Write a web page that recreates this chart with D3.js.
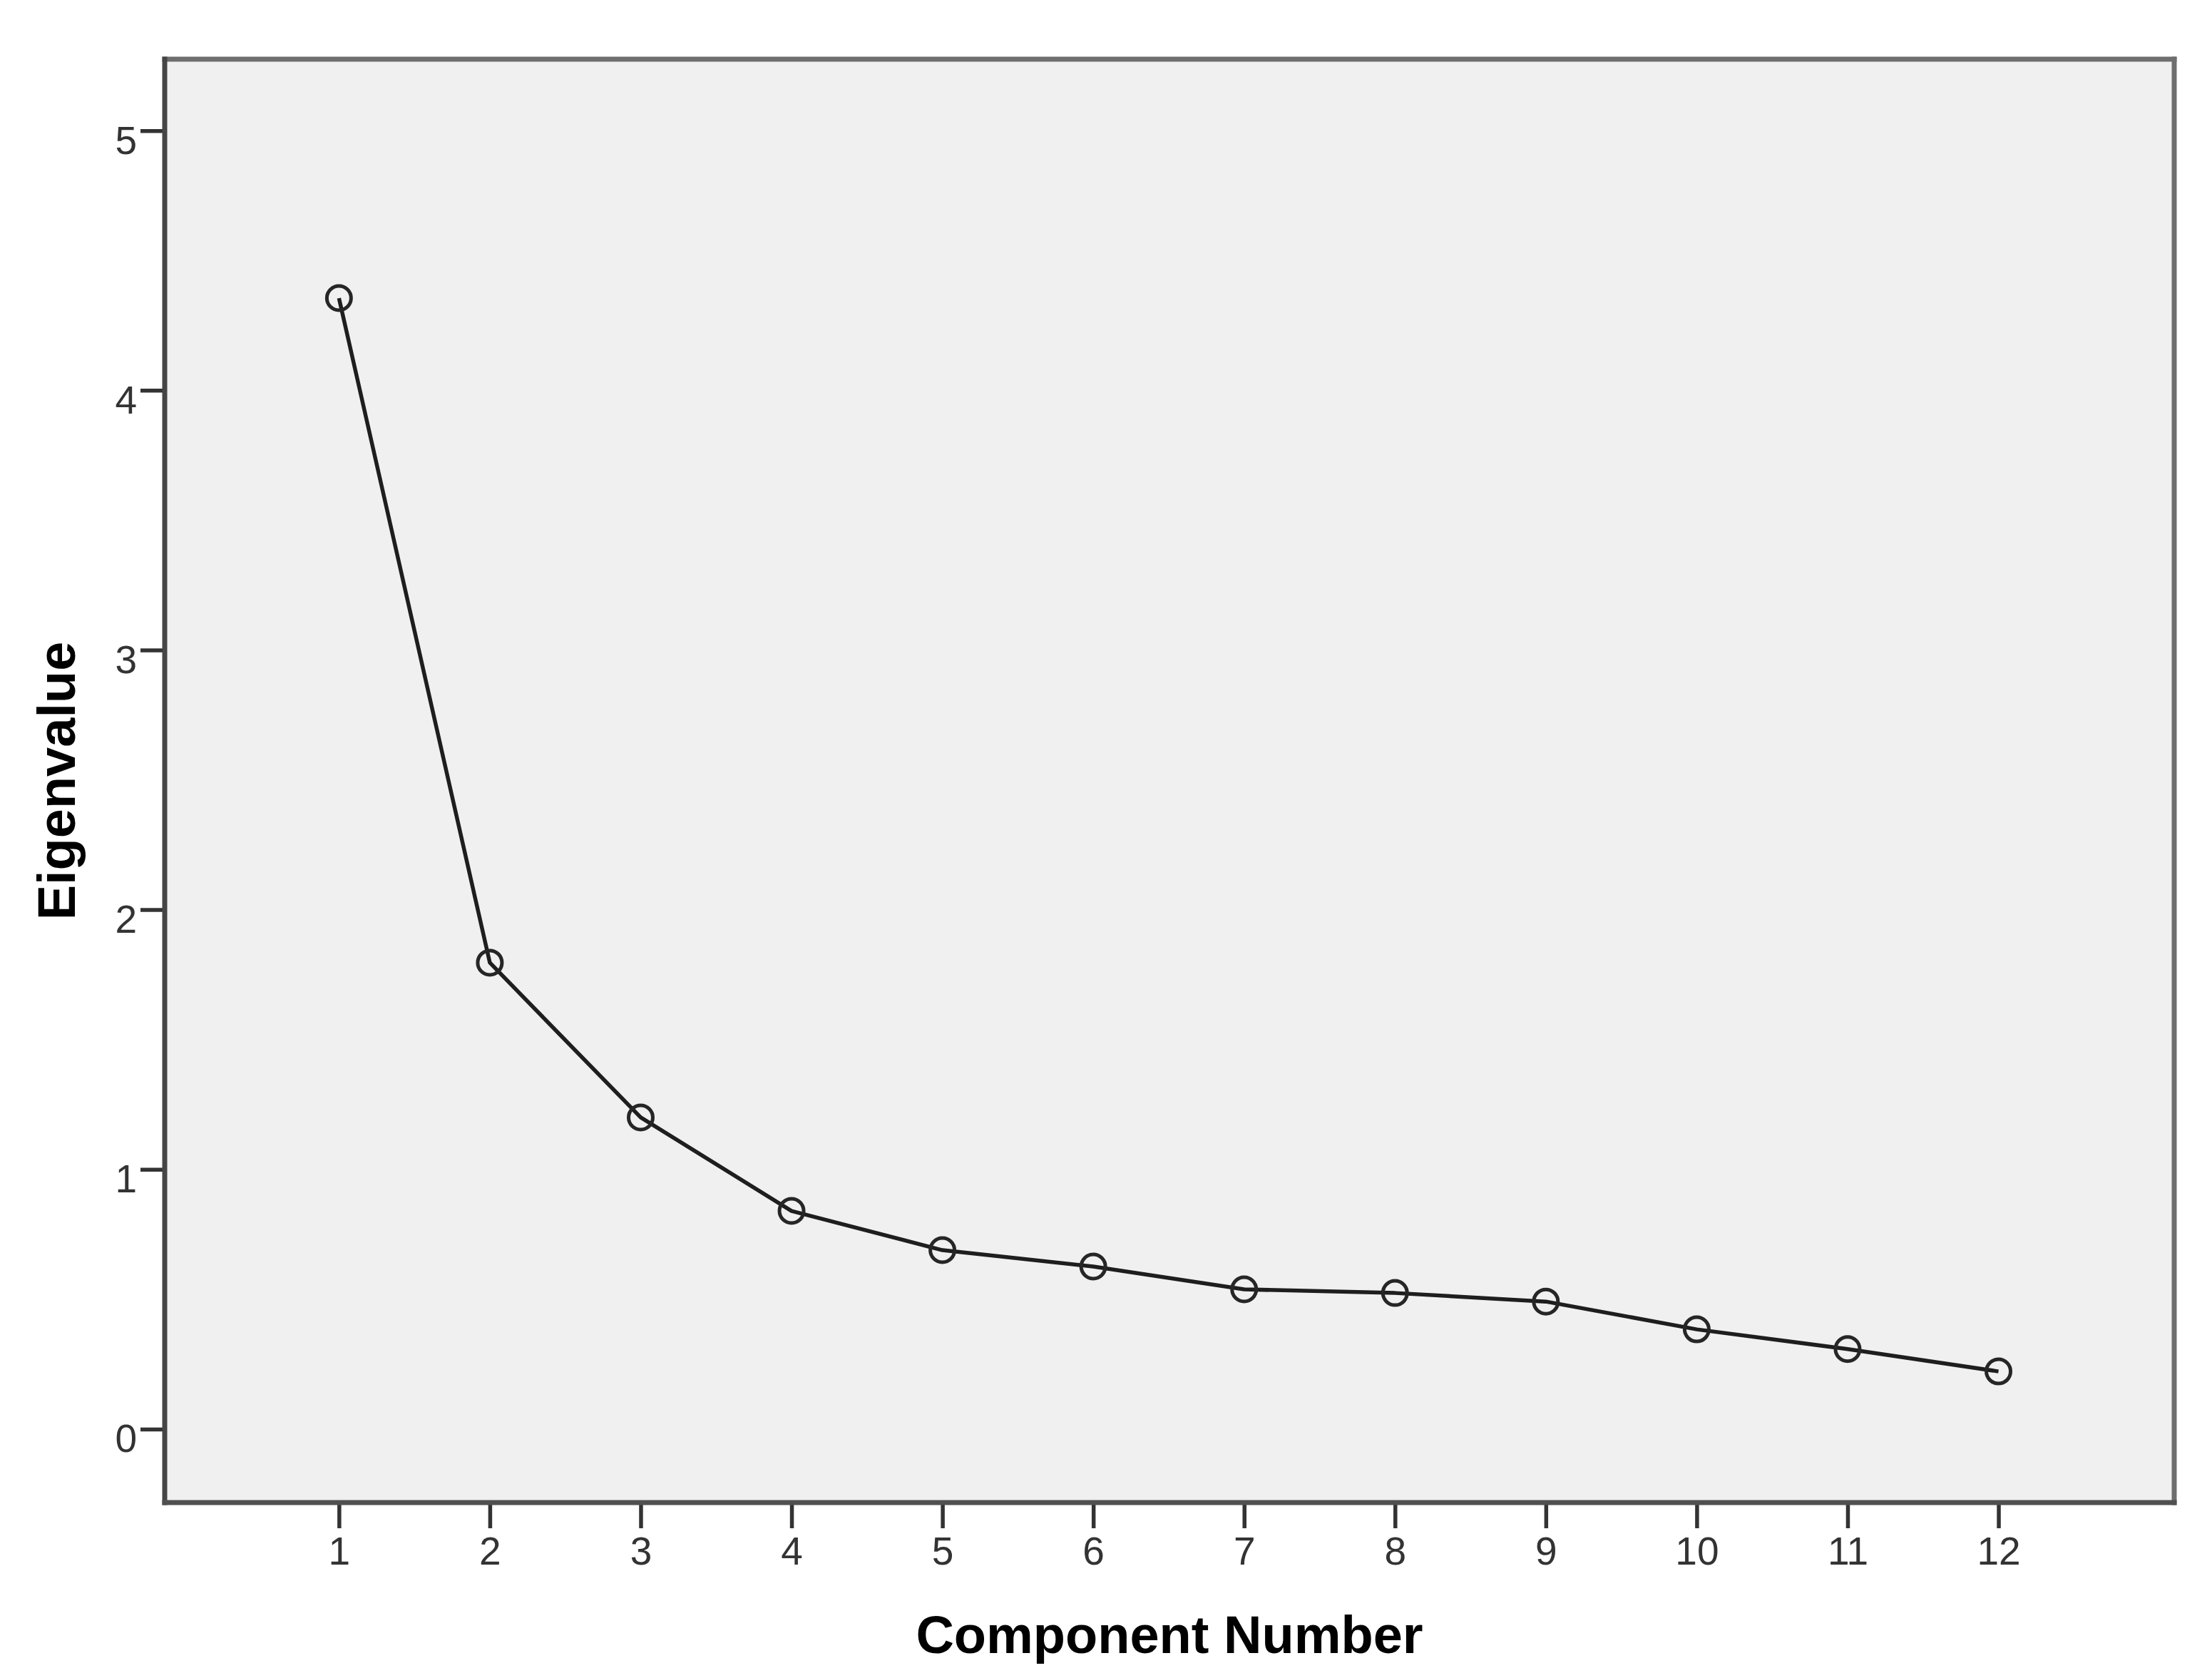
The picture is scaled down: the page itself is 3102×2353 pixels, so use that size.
<!DOCTYPE html>
<html>
<head>
<meta charset="utf-8">
<script src="https://cdn.jsdelivr.net/npm/d3@7"></script>
<style>
  html, body { margin: 0; padding: 0; background: #ffffff; }
  svg { display: block; }
</style>
</head>
<body>
<script>
// ---- data ----
const components = [1, 2, 3, 4, 5, 6, 7, 8, 9, 10, 11, 12];
const eigenvalues = [4.355, 1.796, 1.20, 0.84, 0.689, 0.626, 0.538, 0.524, 0.491, 0.384, 0.308, 0.222];
const yTickValues = [0, 1, 2, 3, 4, 5];
const xTickValues = [1, 2, 3, 4, 5, 6, 7, 8, 9, 10, 11, 12];
const xTitle = "Component Number";
const yTitle = "Eigenvalue";

// ---- layout ----
const W = 3102, H = 2353;
const plot = { left: 231, right: 3049, top: 83, bottom: 2107 };

const svg = d3.select("body").append("svg")
  .attr("width", W).attr("height", H)
  .attr("viewBox", `0 0 ${W} ${H}`);

const x = d3.scaleLinear().domain([-0.155, 13.165]).range([plot.left, plot.right]);
const y = d3.scaleLinear().domain([-0.283, 5.275]).range([plot.bottom, plot.top]);

// plot background
svg.append("rect")
  .attr("x", plot.left).attr("y", plot.top)
  .attr("width", plot.right - plot.left).attr("height", plot.bottom - plot.top)
  .attr("fill", "#f0f0f0");

// axes
const tickFont = "'Liberation Sans', Arial, sans-serif";
const yAxis = svg.append("g")
  .attr("transform", `translate(${plot.left},0)`)
  .call(d3.axisLeft(y).tickValues(yTickValues).tickFormat(d3.format("d")).tickSize(34).tickPadding(5).tickSizeOuter(0));
yAxis.select(".domain").remove();
yAxis.selectAll(".tick line").attr("stroke", "#333333").attr("stroke-width", 5.5);
yAxis.selectAll(".tick text")
  .attr("font-family", tickFont).attr("font-size", 55).attr("fill", "#333333")
  .attr("dy", "0.58em");

const xAxis = svg.append("g")
  .attr("transform", `translate(0,${plot.bottom})`)
  .call(d3.axisBottom(x).tickValues(xTickValues).tickFormat(d3.format("d")).tickSize(36).tickPadding(12).tickSizeOuter(0));
xAxis.select(".domain").remove();
xAxis.selectAll(".tick line").attr("stroke", "#333333").attr("stroke-width", 5.5);
xAxis.selectAll(".tick text")
  .attr("font-family", tickFont).attr("font-size", 55).attr("fill", "#333333");

// frame
const frame = svg.append("g").attr("fill", "none").attr("stroke-linecap", "square");
frame.append("line").attr("x1", plot.left).attr("x2", plot.right).attr("y1", plot.top).attr("y2", plot.top)
  .attr("stroke", "#6e6e6e").attr("stroke-width", 7);
frame.append("line").attr("x1", plot.right).attr("x2", plot.right).attr("y1", plot.top).attr("y2", plot.bottom)
  .attr("stroke", "#6e6e6e").attr("stroke-width", 7);
frame.append("line").attr("x1", plot.left).attr("x2", plot.left).attr("y1", plot.top).attr("y2", plot.bottom)
  .attr("stroke", "#454545").attr("stroke-width", 7);
frame.append("line").attr("x1", plot.left).attr("x2", plot.right).attr("y1", plot.bottom).attr("y2", plot.bottom)
  .attr("stroke", "#505050").attr("stroke-width", 7);

// line
const pts = components.map((c, i) => ({ c, v: eigenvalues[i] }));
svg.append("path")
  .datum(pts)
  .attr("fill", "none")
  .attr("stroke", "#1e1e1e")
  .attr("stroke-width", 5.5)
  .attr("stroke-linejoin", "round")
  .attr("d", d3.line().x(d => x(d.c)).y(d => y(d.v)));

// markers
svg.append("g").selectAll("circle")
  .data(pts).join("circle")
  .attr("cx", d => x(d.c)).attr("cy", d => y(d.v))
  .attr("r", 17)
  .attr("fill", "none")
  .attr("stroke", "#262626")
  .attr("stroke-width", 5);

// titles
svg.append("text")
  .attr("x", (plot.left + plot.right) / 2).attr("y", 2318)
  .attr("text-anchor", "middle")
  .attr("font-family", tickFont).attr("font-weight", "bold").attr("font-size", 74)
  .attr("fill", "#000").text(xTitle);

svg.append("text")
  .attr("transform", `translate(105,${(plot.top + plot.bottom) / 2}) rotate(-90)`)
  .attr("text-anchor", "middle")
  .attr("font-family", tickFont).attr("font-weight", "bold").attr("font-size", 74)
  .attr("fill", "#000").text(yTitle);
</script>
</body>
</html>
